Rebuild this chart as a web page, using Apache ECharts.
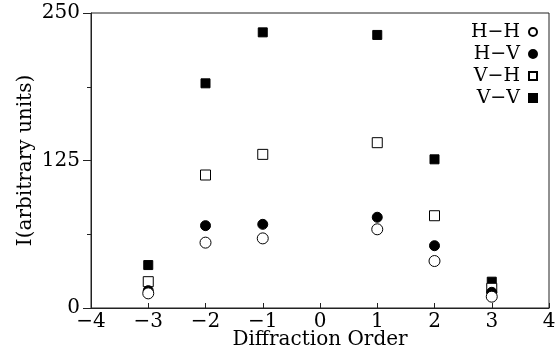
<!DOCTYPE html>
<html>
<head>
<meta charset="utf-8">
<script src="https://cdn.jsdelivr.net/npm/echarts@6/dist/echarts.min.js"></script>
<style>
  html, body { margin: 0; padding: 0; background: #fff; }
  #chart { width: 555px; height: 360px; }
</style>
</head>
<body>
<div id="chart"></div>
<script>
// diffraction orders measured
const orders = [-3, -2, -1, 1, 2, 3];
// intensities per polarisation pair
const hh = [12.4, 55.4, 59.0, 66.7, 39.8, 9.6];
const hv = [14.7, 69.8, 70.9, 76.9, 52.8, 13.3];
const vh = [22.3, 112.7, 130.2, 140.1, 78.2, 16.7];
const vv = [36.4, 190.4, 233.6, 231.4, 126.0, 22.3];
const seriesNames = ['H\u2212H', 'H\u2212V', 'V\u2212H', 'V\u2212V'];

const serif = 'DejaVu Serif';
const ink = '#000';
const line = '#222';

function pairs(values) {
  return orders.map((x, i) => [x, values[i]]);
}

function makeSeries(name, values, symbol, filled, size) {
  return {
    type: 'scatter',
    name: name,
    data: pairs(values),
    symbol: symbol,
    symbolSize: size,
    itemStyle: {
      color: filled ? ink : '#fff',
      borderColor: ink,
      borderWidth: 1,
      opacity: 1
    }
  };
}

const chart = echarts.init(document.getElementById('chart'));
chart.setOption({
  animation: false,
  grid: {
    left: 91, right: 6, top: 13, bottom: 52,
    containLabel: false,
    outerBoundsMode: 'none',
    show: true, borderColor: line, borderWidth: 1,
    backgroundColor: 'transparent'
  },
  legend: {
    orient: 'vertical',
    right: 12,
    top: 17,
    align: 'right',
    itemWidth: 8,
    itemHeight: 8,
    itemGap: 2,
    data: seriesNames,
    textStyle: { fontFamily: serif, fontSize: 19, color: ink, lineHeight: 20, padding: [0, 4, 0, 0] }
  },
  xAxis: {
    type: 'value',
    min: -4, max: 4, interval: 1,
    name: 'Diffraction Order',
    nameLocation: 'middle',
    nameGap: 22,
    nameMoveOverlap: false,
    nameTextStyle: { fontFamily: serif, fontSize: 20, color: ink },
    axisLine: { show: true, onZero: false, lineStyle: { color: line, width: 1 } },
    axisTick: { show: true, inside: true, length: 5, lineStyle: { color: line } },
    axisLabel: {
      fontFamily: serif, fontSize: 20, color: ink, margin: 4,
      formatter: v => String(v).replace('-', '\u2212')
    },
    splitLine: { show: false }
  },
  yAxis: {
    type: 'value',
    min: 0, max: 250, interval: 125,
    name: 'I(arbitrary units)',
    nameLocation: 'middle',
    nameRotate: 90,
    nameGap: 55,
    nameMoveOverlap: false,
    nameTextStyle: { fontFamily: serif, fontSize: 20, color: ink },
    axisLine: { show: true, onZero: false, lineStyle: { color: line, width: 1 } },
    axisTick: { show: true, length: 8, lineStyle: { color: line } },
    minorTick: { show: true, splitNumber: 2, length: 4, lineStyle: { color: line } },
    axisLabel: { fontFamily: serif, fontSize: 20, color: ink, margin: 11 },
    splitLine: { show: false }
  },
  series: [
    makeSeries(seriesNames[3], vv, 'rect', true, 9),
    makeSeries(seriesNames[2], vh, 'rect', false, 10),
    makeSeries(seriesNames[1], hv, 'circle', true, 10),
    makeSeries(seriesNames[0], hh, 'circle', false, 11)
  ]
});
</script>
</body>
</html>
